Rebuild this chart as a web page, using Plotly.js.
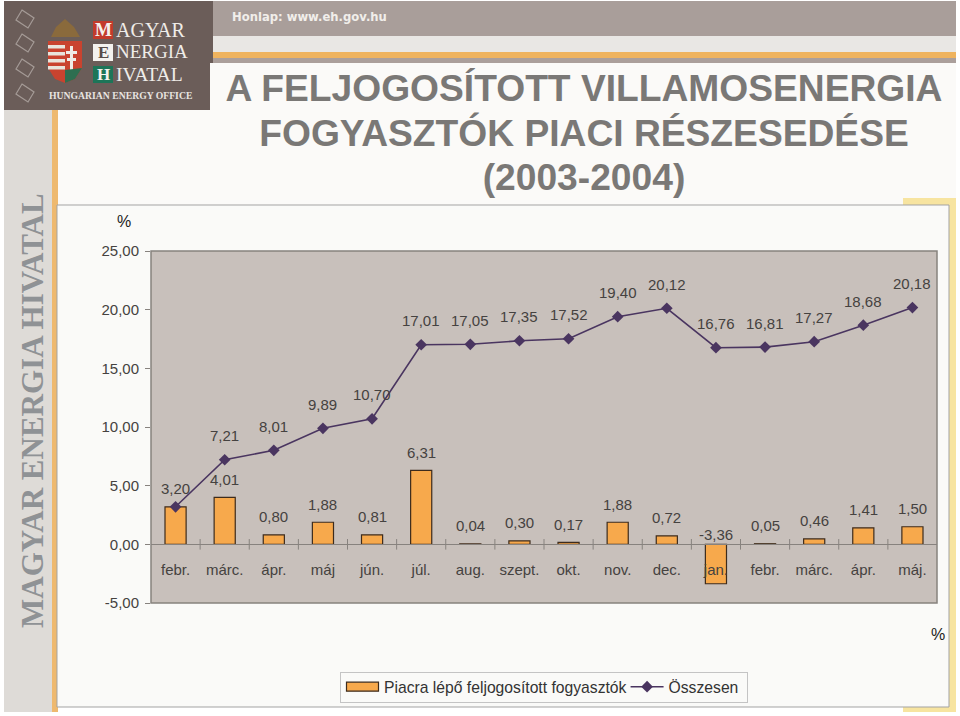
<!DOCTYPE html>
<html><head><meta charset="utf-8">
<script src="https://cdn.plot.ly/plotly-3.0.1.min.js"></script>
<style>html,body{margin:0;padding:0;background:#fff}#c{width:960px;height:716px}</style>
</head><body><div id="c"></div>
<script>
const categories = ["febr.","márc.","ápr.","máj","jún.","júl.","aug.","szept.","okt.","nov.","dec.","jan.","febr.","márc.","ápr.","máj."];
const enteringValues = [3.20,4.01,0.80,1.88,0.81,6.31,0.04,0.30,0.17,1.88,0.72,-3.36,0.05,0.46,1.41,1.50];
const totalValues = [3.20,7.21,8.01,9.89,10.70,17.01,17.05,17.35,17.52,19.40,20.12,16.76,16.81,17.27,18.68,20.18];
const seriesNames = ["Piacra lépő feljogosított fogyasztók","Összesen"];
const yTickValues = [-5,0,5,10,15,20,25];
const yTickLabels = ["-5,00","0,00","5,00","10,00","15,00","20,00","25,00"];
const titleText = "A FELJOGOSÍTOTT VILLAMOSENERGIA<br>FOGYASZTÓK PIACI RÉSZESEDÉSE<br>(2003-2004)";
const W=960,H=716;
const fx=p=>p/W, fy=p=>1-p/H;
const FONT='"Liberation Sans", Arial, sans-serif', SERIF='"Liberation Serif", serif';
const TXT='#454240';
const idx=categories.map((_,i)=>i);
const edges=idx.slice(0,-1).map(i=>i+0.5);

function rect(x0,y0,x1,y1,fill,line,lw){return {type:'rect',xref:'paper',yref:'paper',x0:fx(x0),x1:fx(x1),y0:fy(y1),y1:fy(y0),fillcolor:fill||'rgba(0,0,0,0)',line:{color:line||'rgba(0,0,0,0)',width:line?(lw||1):0},layer:'below'};}
function path(pts,fill,line,lw){const d='M'+pts.map(p=>fx(p[0])+','+fy(p[1])).join('L')+'Z';return {type:'path',xref:'paper',yref:'paper',path:d,fillcolor:fill||'rgba(0,0,0,0)',line:{color:line||'rgba(0,0,0,0)',width:line?(lw||1):0},layer:'below'};}
function txt(x,y,t,size,color,family,extra){return Object.assign({xref:'paper',yref:'paper',x:fx(x),y:fy(y),text:t,showarrow:false,font:{size:size,color:color,family:family||FONT},xanchor:'center',yanchor:'middle'},extra||{});}

const shapes=[
 rect(0,0,960,716,'#ffffff'),
 rect(213,1,956,36,'#a99e9a'),
 rect(213,36,956,52,'#e9e7e4'),
 rect(213,52,956,58,'#efb35e'),
 rect(213,58,956,63,'#ab9f9b'),
 rect(57,63,956,205,'#fbfaf8'),
 rect(4,100,52,712,'#dedbd7'),
 rect(52,100,58,712,'#eeb96f'),
 rect(903,198,956,712,'#f7e4a0'),
 rect(57,205,949,707,'#fafaf8','#a3a3a3',1),
 rect(4,1,213,63,'#6b5d59'),
 rect(4,63,210,110,'#6b5d59'),
 rect(151,251,937,603,'#c8c0bb','#87827e',1.5),
];
[19,43,68,93].forEach(y=>shapes.push(path([[22,y-9],[34,y-1],[28,y+9],[16,y+1]],'rgba(0,0,0,0)','#a59b97',1.2)));
shapes.push(path([[51,37],[56,27],[65,19],[74,27],[80,37]],'#8a6a3c'));
shapes.push(path([[48,41],[82,41],[82,68],[75,79],[65,83],[55,79],[48,68]],'#c9432f'));
[[45],[52],[59],[66]].forEach(r=>shapes.push(rect(48,r[0],65,r[0]+3.5,'#e8e4dc')));
shapes.push(rect(70,46,73,70,'#efece6'),rect(66,51,77,54,'#efece6'),rect(67,58,76,61,'#efece6'));
shapes.push(path([[65,70],[82,68],[75,79],[65,83]],'#2e6e50'));
shapes.push(rect(93,21,113,39,'#c23b2b'),rect(93,44,113,61,'#f4f2ee'),rect(93,66,113,83,'#1d7558'));

const left={xanchor:'left'};
const annotations=[
 txt(309,17,'Honlap: www.eh.gov.hu',11.6,'#f1eeea','"DejaVu Sans"',{font:{size:11.6,color:'#f1eeea',family:'"DejaVu Sans"',weight:700}}),
 txt(103,30,'M',17,'#f4f2ee',SERIF,{font:{size:18,color:'#f4f2ee',family:SERIF,weight:700}}),
 txt(103,52.5,'E',17,'#5a4d49',SERIF,{font:{size:17,color:'#5a4d49',family:SERIF,weight:700}}),
 txt(103,74.5,'H',17,'#f4f2ee',SERIF,{font:{size:17,color:'#f4f2ee',family:SERIF,weight:700}}),
 txt(114,30,'AGYAR',20,'#efece8',SERIF,left),
 txt(114,52,'NERGIA',19,'#efece8',SERIF,left),
 txt(114,74,'IVATAL',19.6,'#efece8',SERIF,left),
 txt(120,96,'HUNGARIAN ENERGY OFFICE',9.7,'#e8e4e0',SERIF,{font:{size:9.7,color:'#e8e4e0',family:SERIF,weight:700}}),
 txt(32,411,'MAGYAR ENERGIA HIVATAL',31,'#8f9295',SERIF,{textangle:-90,font:{size:31,color:'#8f9295',family:SERIF,weight:700}}),
 txt(124,222,'%',16,'#222'),
 txt(938,634,'%',16,'#222'),
];
idx.forEach(i=>{
 const v=enteringValues[i];
 annotations.push({xref:'x',yref:'y',x:i,y:Math.max(v,0),yshift:v<0?10:18,text:v.toFixed(2).replace('.',','),showarrow:false,font:{size:15,color:TXT,family:FONT},xanchor:'center',yanchor:'middle'});
 if(i>0) annotations.push({xref:'x',yref:'y',x:i,y:totalValues[i],yshift:24,text:totalValues[i].toFixed(2).replace('.',','),showarrow:false,font:{size:15,color:TXT,family:FONT},xanchor:'center',yanchor:'middle'});
});

const traces=[
 {type:'bar',name:seriesNames[0],x:idx,y:enteringValues,width:0.43,marker:{color:'#f7a94c',line:{color:'#3d2b1c',width:1.2}},hoverinfo:'y'},
 {type:'scatter',mode:'lines+markers',name:seriesNames[1],x:idx,y:totalValues,line:{color:'#4a3560',width:1.6},marker:{symbol:'diamond',size:9,color:'#4a3560'},hoverinfo:'y'},
 {type:'scatter',mode:'markers',x:edges,y:edges.map(()=>0),marker:{size:1,opacity:0},showlegend:false,hoverinfo:'skip',error_y:{type:'constant',value:0.45,width:0,thickness:1,color:'#87827e'}},
];
const layout={
 width:W,height:H,autosize:false,margin:{l:0,r:0,t:0,b:0,pad:0},
 paper_bgcolor:'#ffffff',plot_bgcolor:'rgba(0,0,0,0)',showlegend:true,
 font:{family:FONT,color:TXT,size:15},
 title:{text:titleText,x:584/W,xanchor:'center',xref:'paper',y:fy(72),yanchor:'top',yref:'paper',font:{family:FONT,size:37.2,color:'#7a7876',weight:700}},
 xaxis:{domain:[fx(151),fx(937)],range:[-0.5,15.5],anchor:'free',position:fy(544),tickmode:'array',tickvals:idx,ticktext:categories,ticks:'',ticklabelstandoff:12,showgrid:false,zeroline:false,showline:true,linecolor:'#87827e',linewidth:1,tickfont:{size:15,color:TXT,family:FONT},fixedrange:true},
 yaxis:{domain:[fy(603),fy(251)],range:[-5,25],tickmode:'array',tickvals:yTickValues,ticktext:yTickLabels,ticks:'outside',ticklen:5,tickcolor:'#87827e',showgrid:false,zeroline:false,showline:false,tickfont:{size:15,color:TXT,family:FONT},ticklabelstandoff:3,fixedrange:true,anchor:'x',automargin:false},
 legend:{orientation:'h',x:fx(340),xanchor:'left',y:fy(672),yanchor:'top',bgcolor:'#fafaf8',bordercolor:'#c4c4c4',borderwidth:1,font:{size:15.7,color:'#333',family:FONT},itemwidth:33,traceorder:'normal'},
 shapes:shapes,annotations:annotations
};
Plotly.newPlot('c',traces,layout,{displayModeBar:false,staticPlot:true}).then(()=>{
 const lines=document.querySelectorAll('.gtitle tspan.line');
 lines.forEach((t,i)=>{t.setAttribute('y',101);t.setAttribute('dy',(i*44.5)+'px');});
 const bar=document.querySelector('.legend .legendbar path, .legend .legendpoints path');
 if(bar) bar.setAttribute('d','M16,4.5H-16V-4.5H16Z');
 const bg=document.querySelector('.legend rect.bg');
 if(bg){bg.setAttribute('width',407);bg.setAttribute('height',30);}
 document.querySelectorAll('.legend .traces').forEach((g,i)=>{
  const m=/translate\(([-\d.]+),\s*([-\d.]+)\)/.exec(g.getAttribute('transform')||'');
  if(m) g.setAttribute('transform','translate('+(+m[1]-(i?6:0))+','+(+m[2]-3)+')');
 });
});
</script></body></html>
